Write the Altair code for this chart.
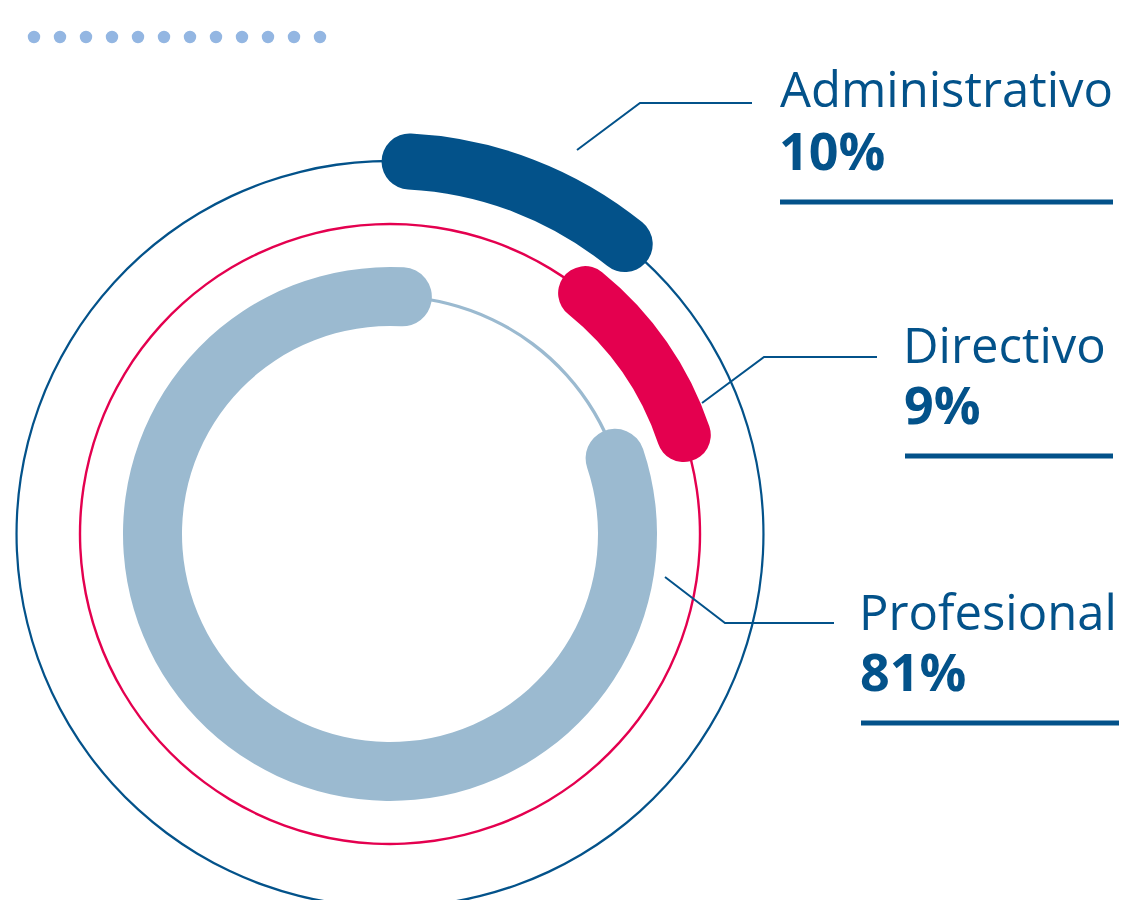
import math
import altair as alt
import pandas as pd

# ---------------- data ----------------
CATEGORIES = ["Administrativo", "Directivo", "Profesional"]
SHARES = [10, 9, 81]
SHARE_LABELS = ["10%", "9%", "81%"]

# ---------------- styling / layout ----------------
COLORS = ["#03528a", "#e4004f", "#9bbad0"]
TEXT_COLOR = "#03528a"
DOT_COLOR = "#93b6e2"
RING_RADIUS = [373, 310, 237.5]
RING_THICK = [56, 54, 59]
RING_LINE = [2.4, 2.4, 3.0]
START_DEG = 3.0
CX, CY = 382, 526
W, H = 1111, 892

NAME_X = [772, 895, 851]
NAME_Y = [99, 355, 622]
PCT_X = [771, 896, 852]
PCT_Y = [162, 416, 683]
UL_X1 = [772, 897, 853]
UL_X2 = [1105, 1105, 1117]
UL_Y = [194, 448, 715]
LEADERS = [
    [(569, 142), (632, 95), (744, 95)],
    [(694, 395), (756, 349), (869, 349)],
    [(657, 569), (717, 615), (826, 615)],
]
DOT_X0, DOT_DX, DOT_Y, DOT_N = 26, 26.0, 29, 12

# ---------------- tables ----------------
arc_rows = []
cum = 0.0
for cat, v, r, t in zip(CATEGORIES, SHARES, RING_RADIUS, RING_THICK):
    cap = (t / 2) / r / (2 * math.pi) * 100
    arc_rows.append(dict(cat=cat, start=cum - cap, end=cum + v + cap))
    cum += v
arcs = pd.DataFrame(arc_rows)

off = math.radians(START_DEG)
theta_scale = alt.Scale(domain=[0, 100], range=[off, off + 2 * math.pi])

layers = []
# thin guide circles
for i, cat in enumerate(CATEGORIES):
    circ = pd.DataFrame({"cat": [cat], "start": [0.0], "end": [100.0]})
    layers.append(
        alt.Chart(circ).mark_arc(
            outerRadius=RING_RADIUS[i] + RING_LINE[i] / 2,
            innerRadius=RING_RADIUS[i] - RING_LINE[i] / 2,
            color=COLORS[i], x=CX, y=CY,
        ).encode(
            theta=alt.Theta("start:Q", scale=theta_scale, stack=None),
            theta2="end:Q",
        )
    )
# thick value arcs
for i, cat in enumerate(CATEGORIES):
    layers.append(
        alt.Chart(arcs[arcs.cat == cat]).mark_arc(
            outerRadius=RING_RADIUS[i] + RING_THICK[i] / 2,
            innerRadius=RING_RADIUS[i] - RING_THICK[i] / 2,
            cornerRadius=RING_THICK[i] / 2,
            color=COLORS[i], x=CX, y=CY,
        ).encode(
            theta=alt.Theta("start:Q", scale=theta_scale, stack=None),
            theta2="end:Q",
        )
    )

# leader lines
lead_rows = []
for cat, pts in zip(CATEGORIES, LEADERS):
    for k, (px, py) in enumerate(pts):
        lead_rows.append(dict(cat=cat, k=k, px=px, py=py))
leaders = pd.DataFrame(lead_rows)
layers.append(
    alt.Chart(leaders).mark_line(color=TEXT_COLOR, strokeWidth=2).encode(
        x=alt.X("px:Q", scale=None, axis=None),
        y=alt.Y("py:Q", scale=None, axis=None),
        detail="cat:N",
        order="k:Q",
    )
)

labels = pd.DataFrame(dict(
    cat=CATEGORIES, pct=SHARE_LABELS,
    nx=NAME_X, ny=NAME_Y, px=PCT_X, py=PCT_Y,
    ux1=UL_X1, ux2=UL_X2, uy=UL_Y,
))
layers.append(
    alt.Chart(labels).mark_text(
        font="Open Sans", fontSize=49, align="left", baseline="alphabetic", color=TEXT_COLOR
    ).encode(x=alt.X("nx:Q", scale=None), y=alt.Y("ny:Q", scale=None), text="cat:N")
)
layers.append(
    alt.Chart(labels).mark_text(
        font="Open Sans", fontSize=52, fontWeight="bold", align="left", baseline="alphabetic", color=TEXT_COLOR
    ).encode(x=alt.X("px:Q", scale=None), y=alt.Y("py:Q", scale=None), text="pct:N")
)
layers.append(
    alt.Chart(labels).mark_rule(color=TEXT_COLOR, strokeWidth=5).encode(
        x=alt.X("ux1:Q", scale=None), x2="ux2:Q", y=alt.Y("uy:Q", scale=None)
    )
)

# decorative dots
dots = pd.DataFrame({"dx": [DOT_X0 + DOT_DX * i for i in range(DOT_N)], "dy": [DOT_Y] * DOT_N})
layers.append(
    alt.Chart(dots).mark_circle(size=154, color=DOT_COLOR, opacity=1).encode(
        x=alt.X("dx:Q", scale=None), y=alt.Y("dy:Q", scale=None)
    )
)

chart = alt.layer(*layers).properties(
    width=W, height=H, padding=0, autosize=alt.AutoSizeParams(type="none")
).configure_view(stroke=None)

chart.save("out.html", embed_options={"renderer": "svg", "actions": False})
